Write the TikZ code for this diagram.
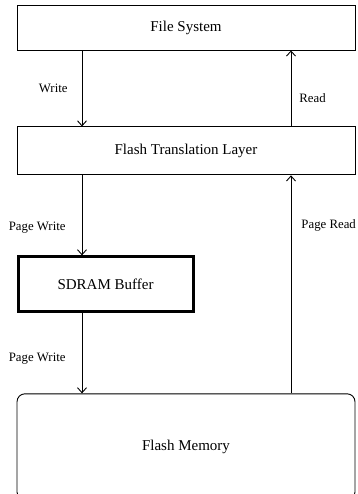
\documentclass[tikz,border=0pt]{standalone}
\usepackage{fontspec}
\setmainfont{Liberation Serif}
\usepackage{tikz}
\usetikzlibrary{arrows.meta,positioning}

\tikzset{
  layer/.style={draw, fill=white, line width=0.9pt, inner sep=0pt,
                minimum width=338pt, font=\fontsize{15}{18}\selectfont},
  buffer/.style={layer, line width=3pt, minimum width=175pt, minimum height=55pt},
  memory/.style={layer, rounded corners=8pt, minimum height=106pt},
  lbl/.style={inner sep=0pt, font=\fontsize{12.8}{15}\selectfont},
}

\begin{document}
\begin{tikzpicture}[x=1pt, y=-1pt, node distance=80pt,
                    >={Straight Barb[length=5pt,width=9pt]}, line width=0.9pt]
          \useasboundingbox (0,0) rectangle (357,494);
          \clip (0,0) rectangle (357,494);

          \node[layer, minimum height=45pt] (fs)  at (186,27.5)  {File System};
          \node[layer, minimum height=48pt] (ftl) [below=76pt of fs] {Flash Translation Layer};
          \node[buffer] (sdram) [below=of ftl.south west, anchor=north west] {SDRAM Buffer};
          \node[memory] (fm)    [below=of sdram.south west, anchor=north west] {Flash Memory};

          % columns of the write and read paths
          \coordinate (wx) at (82,0);
          \coordinate (rx) at (291,0);

          \path[->]
                    (fs.south -| wx)    edge node [lbl, left=14pt, pos=0.5]   {Write} (ftl.north -| wx)
                    (ftl.north -| rx)   edge node [lbl, right=8pt, pos=0.37]  {Read} (fs.south -| rx)
                    (ftl.south -| wx)   edge node [lbl, left=16pt, pos=0.65]  {Page Write} (sdram.north -| wx)
                    (sdram.south -| wx) edge node [lbl, left=16pt, pos=0.57]  {Page Write} (fm.north -| wx)
                    (fm.north -| rx)    edge node [lbl, right=10pt, pos=0.77] {Page Read} (ftl.south -| rx)
            ;
\end{tikzpicture}
\end{document}
